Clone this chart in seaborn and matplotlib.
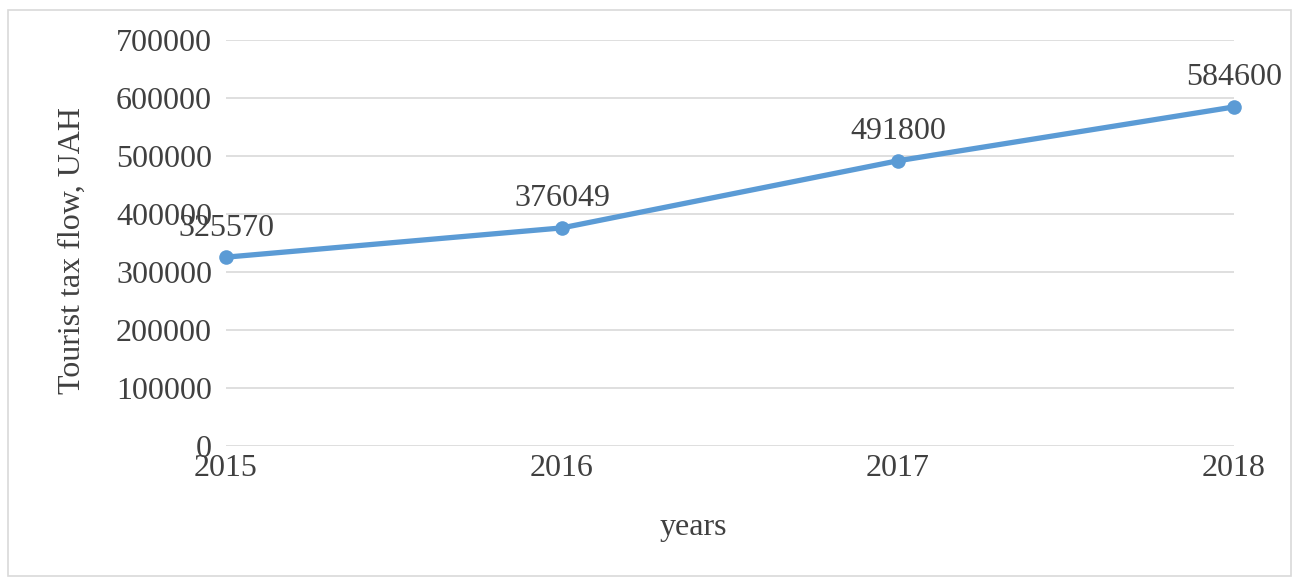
import matplotlib
matplotlib.use("Agg")
import matplotlib.pyplot as plt
import seaborn as sns
import pandas as pd
from matplotlib.patches import Rectangle

# Data
years = [2015, 2016, 2017, 2018]
tax_flow = [325570, 376049, 491800, 584600]
y_ticks = [0, 100000, 200000, 300000, 400000, 500000, 600000, 700000]

df = pd.DataFrame({"year": years, "tax": tax_flow})

sns.set_style("white")
plt.rcParams["font.family"] = ["Liberation Serif", "DejaVu Serif"]

W, H = 1301, 577
fig = plt.figure(figsize=(W / 100, H / 100), dpi=100)
ax = fig.add_axes([226 / W, 1 - 446 / H, (1234 - 226) / W, (446 - 40) / H])

text_col = "#404040"
line_col = "#5B9BD5"

sns.lineplot(data=df, x="year", y="tax", ax=ax, color=line_col, linewidth=3.8,
             marker="o", markersize=10.5, markeredgewidth=0, clip_on=False)

ax.set_xlim(years[0], years[-1])
ax.set_ylim(0, 700000)
ax.set_xticks(years)
ax.set_xticklabels([str(y) for y in years])
ax.set_yticks(y_ticks)
ax.set_yticklabels([str(v) for v in y_ticks])
ax.yaxis.grid(True, color="#d9d9d9", linewidth=1.2)
ax.set_axisbelow(True)
for s in ax.spines.values():
    s.set_visible(False)
ax.tick_params(axis="both", length=0, labelsize=23, colors=text_col)
ax.tick_params(axis="y", pad=10)
ax.tick_params(axis="x", pad=6)

ax.set_xlabel("years", fontsize=23, color=text_col)
ax.xaxis.set_label_coords((693 - 226) / 1008, -(527 - 446) / 406)
ax.xaxis.label.set_va("center")
ax.set_ylabel("Tourist tax flow, UAH", fontsize=23, color=text_col)
ax.yaxis.set_label_coords(-(226 - 72) / 1008, (446 - 250) / 406)
ax.yaxis.label.set_va("center")

for x, v in zip(years, tax_flow):
    ax.annotate(str(v), (x, v), xytext=(0, 21), textcoords="offset points",
                ha="center", va="center", fontsize=23, color=text_col)

# chart frame
fig.patches.append(Rectangle((8 / W, 0.002), (1291 - 8) / W, 1 - 10 / H - 0.002,
                             transform=fig.transFigure, fill=False,
                             edgecolor="#d9d9d9", linewidth=1.2))

fig.savefig("out.png", dpi=100)
